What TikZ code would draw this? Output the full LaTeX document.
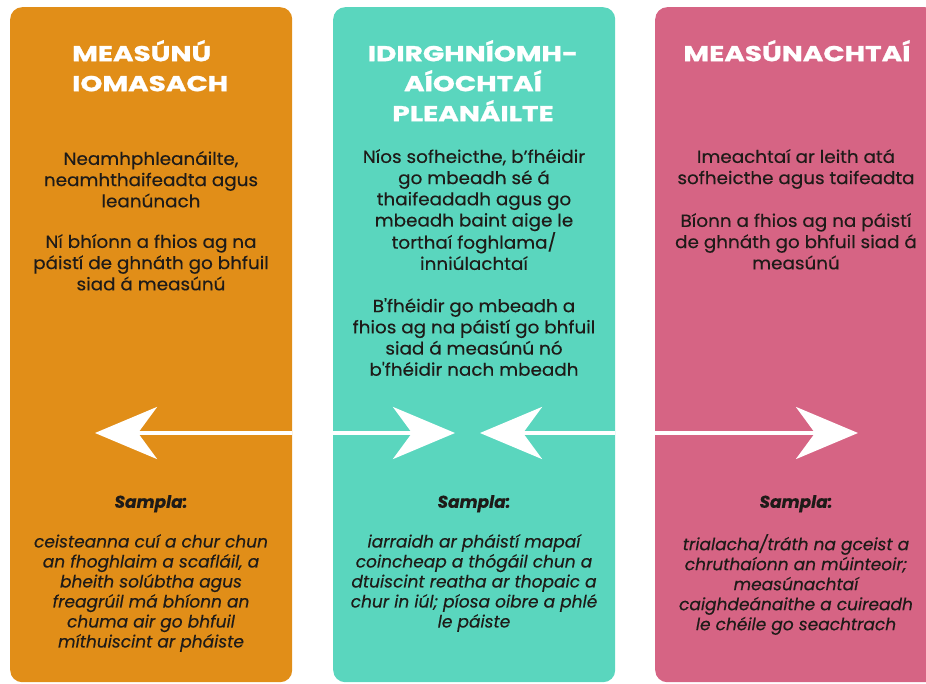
\documentclass[tikz,border=0pt]{standalone}
\usepackage{fontspec}
\setmainfont{Poppins}
\newfontfamily\teidealfont{Poppins}[FakeStretch=1.3, BoldFeatures={FakeBold=1.2}]
\newfontfamily\corpfont{Poppins}[FakeStretch=1.05, FakeBold=0.3]
\newfontfamily\samplafont{Poppins}[FakeBold=0.3]
\usetikzlibrary{arrows.meta}

\definecolor{oraiste}{HTML}{E18E18}
\definecolor{turcaid}{HTML}{5AD6BE}
\definecolor{bandearg}{HTML}{D66484}
\definecolor{dorcha}{HTML}{1E1B18}

\tikzset{
	bosca/.style={rounded corners=12pt, minimum width=282pt, minimum height=675pt, anchor=north west, inner sep=0pt},
	teideal/.style={text=white, font=\teidealfont\fontsize{21.5}{30}\selectfont\bfseries, align=center, anchor=north, inner sep=0pt},
	corp/.style={text=dorcha, font=\corpfont\fontsize{17.5}{21.2}\selectfont, align=center, anchor=north, inner sep=0pt},
	samplateideal/.style={text=dorcha, font=\samplafont\fontsize{17}{21}\selectfont\bfseries\itshape, anchor=north, inner sep=0pt},
	samplacorp/.style={text=dorcha, font=\samplafont\fontsize{17}{20}\selectfont\itshape, align=center, anchor=north, inner sep=0pt},
	saighead/.style={white, line width=4pt, -{Stealth[length=62pt, width=52pt, inset=19pt]}}
}

\begin{document}
\begin{tikzpicture}[x=1pt, y=-1pt]
	
	\clip (0,0) rectangle (926,684);
	
	% na boscaí
	\node[bosca, fill=oraiste] (iomasach) at (10,7) {};
	\node[bosca, fill=turcaid] (pleanailte) at (333,7) {};
	\node[bosca, fill=bandearg] (measunachtai) at (655,7) {};
	
	% teidil
	\node[teideal, align=left, anchor=north west] (t1) at (72,40) {MEASÚNÚ\\IOMASACH};
	\node[teideal] (t2) at (473,40) {IDIRGHNÍOMH-\\AÍOCHTAÍ\\PLEANÁILTE};
	\node[teideal] (t3) at (797,40) {MEASÚNACHTAÍ};
	
	% cur síos
	\node[corp] (c1a) at (151,151) {Neamhphleanáilte,\\neamhthaifeadta agus\\leanúnach};
	\node[corp] (c1b) at (151,234) {Ní bhíonn a fhios ag na\\páistí de ghnáth go bhfuil\\siad á measúnú};
	\node[corp] (c2a) at (474,149) {Níos sofheicthe, b’fhéidir\\go mbeadh sé á\\thaifeadadh agus go\\mbeadh baint aige le\\torthaí foghlama/\\inniúlachtaí};
	\node[corp] (c2b) at (474,298) {B'fhéidir go mbeadh a\\fhios ag na páistí go bhfuil\\siad á measúnú nó\\b'fhéidir nach mbeadh};
	\node[corp] (c3a) at (796,149) {Imeachtaí ar leith atá\\sofheicthe agus taifeadta};
	\node[corp] (c3b) at (796,213) {Bíonn a fhios ag na páistí\\de ghnáth go bhfuil siad á\\measúnú};
	
	% saigheada
	\coordinate (rinnA) at (95,433);
	\coordinate (rinnB) at (455,433);
	\coordinate (rinnC) at (480,433);
	\coordinate (rinnD) at (858,433);
	\draw[saighead] (iomasach.east |- rinnA) -- (rinnA);
	\draw[saighead] (pleanailte.west |- rinnB) -- (rinnB);
	\draw[saighead] (pleanailte.east |- rinnC) -- (rinnC);
	\draw[saighead] (measunachtai.west |- rinnD) -- (rinnD);
	
	% samplaí
	\node[samplateideal] (s1) at (151,495) {Sampla:};
	\node[samplateideal] (s2) at (474,495) {Sampla:};
	\node[samplateideal] (s3) at (796,495) {Sampla:};
	\node[samplacorp] (e1) at (151,534) {ceisteanna cuí a chur chun\\an fhoghlaim a scafláil, a\\bheith solúbtha agus\\freagrúil má bhíonn an\\chuma air go bhfuil\\míthuiscint ar pháiste};
	\node[samplacorp] (e2) at (474,534) {iarraidh ar pháistí mapaí\\coincheap a thógáil chun a\\dtuiscint reatha ar thopaic a\\chur in iúl; píosa oibre a phlé\\le páiste};
	\node[samplacorp] (e3) at (796,534) {trialacha/tráth na gceist a\\chruthaíonn an múinteoir;\\measúnachtaí\\caighdeánaithe a cuireadh\\le chéile go seachtrach};
	
\end{tikzpicture}
\end{document}
